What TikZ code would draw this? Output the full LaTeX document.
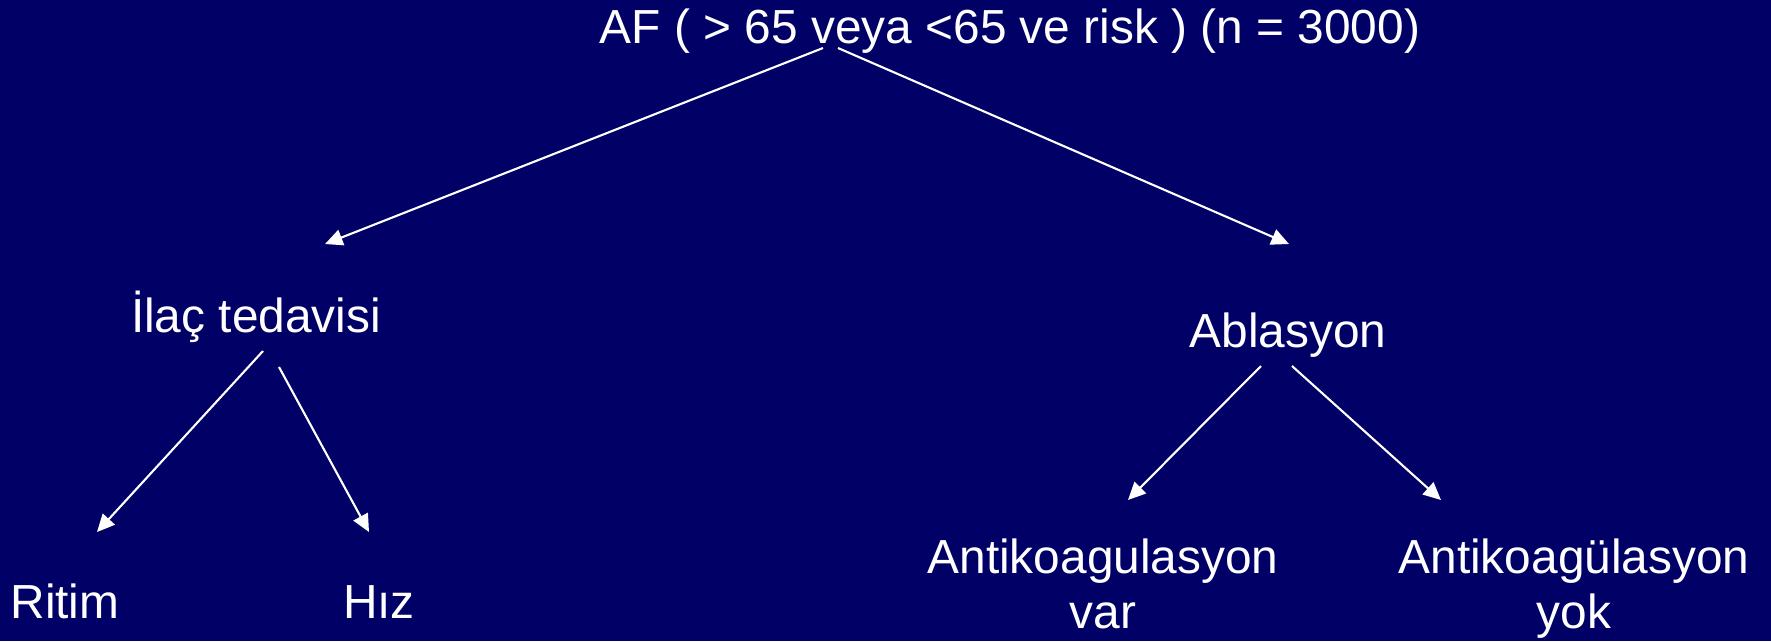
\documentclass[tikz,border=0pt]{standalone}
\usepackage{fontspec}
\setmainfont{Liberation Sans}
\usetikzlibrary{arrows.meta,calc}
\definecolor{slidebg}{RGB}{0,0,102}

\begin{document}
\begin{tikzpicture}[x=0.01cm, y=-0.01cm,
    label/.style={text=white, inner sep=0pt, anchor=base, font=\fontsize{13.6}{15.4}\selectfont},
    branch/.style={white, line width=0.6pt, -{Triangle[length=5pt, width=4.6pt]}}]
        % Background
        \fill[slidebg] (0,0) rectangle (1771,641);
        \useasboundingbox (0,0) rectangle (1771,641);

        % Labels
        \node[label] (title) at (1010,43) {AF ( > 65 veya <65 ve risk ) (n = 3000)};
        \node[label] (ilac) at (256,332) {İlaç tedavisi};
        \node[label] (ablasyon) at (1288,347) {Ablasyon};
        \node[label] (ritim) at (65,618) {Ritim};
        \node[label] (hiz) at (379,618) {Hız};
        \node[label, align=center] (var) at (1103,628) {Antikoagulasyon\\var};
        \node[label, align=center] (yok) at (1574,628) {Antikoagülasyon\\yok};

        % Branches
        \draw[branch] ($(title.base)+(-187,5)$) -- ($(ilac.base)+(69,-88)$);
        \draw[branch] ($(title.base)+(-172,5)$) -- ($(ablasyon.base)+(1,-103)$);
        \draw[branch] ($(ilac.base)+(7,19)$) -- ($(ritim.base)+(32,-86)$);
        \draw[branch] ($(ilac.base)+(23,35)$) -- ($(hiz.base)+(-10,-86)$);
        \draw[branch] ($(ablasyon.base)+(-27,19)$) -- ($(var.base)+(25,-128)$);
        \draw[branch] ($(ablasyon.base)+(4,19)$) -- ($(yok.base)+(-133,-128)$);
    \end{tikzpicture}
\end{document}
